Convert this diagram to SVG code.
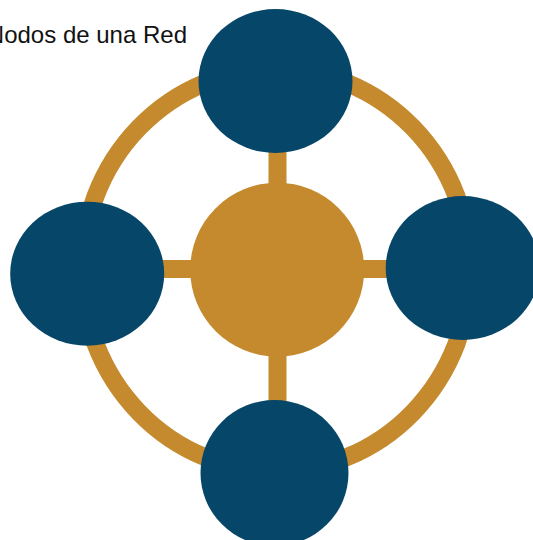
<svg xmlns="http://www.w3.org/2000/svg" width="533" height="540" viewBox="0 0 533 540">
  <style>
    .link { fill: none; stroke: #C48A2D; stroke-width: 18; }
    .hub { fill: #C48A2D; }
    .node { fill: #064669; }
    .title { font-family: "Liberation Sans", Arial, sans-serif; font-size: 24px; fill: #111111; }
  </style>
  <rect width="533" height="540" fill="#ffffff"/>
  <text class="title" x="187" y="43" text-anchor="end">Nodos de una Red</text>
  <g id="connectors">
    <ellipse class="link" cx="276" cy="270" rx="194" ry="201"/>
    <line class="link" x1="277.5" y1="81" x2="277.5" y2="472"/>
    <line class="link" x1="87" y1="269" x2="463" y2="269"/>
  </g>
  <g id="center-node">
    <circle class="hub" cx="277.2" cy="269.7" r="87"/>
  </g>
  <g id="node-top">
    <ellipse class="node" cx="275.5" cy="81" rx="77" ry="72"/>
  </g>
  <g id="node-left">
    <ellipse class="node" cx="87.2" cy="273.7" rx="77" ry="72"/>
  </g>
  <g id="node-right">
    <ellipse class="node" cx="462.7" cy="268" rx="77" ry="72"/>
  </g>
  <g id="node-bottom">
    <ellipse class="node" cx="274.5" cy="473" rx="74" ry="73"/>
  </g>
</svg>
